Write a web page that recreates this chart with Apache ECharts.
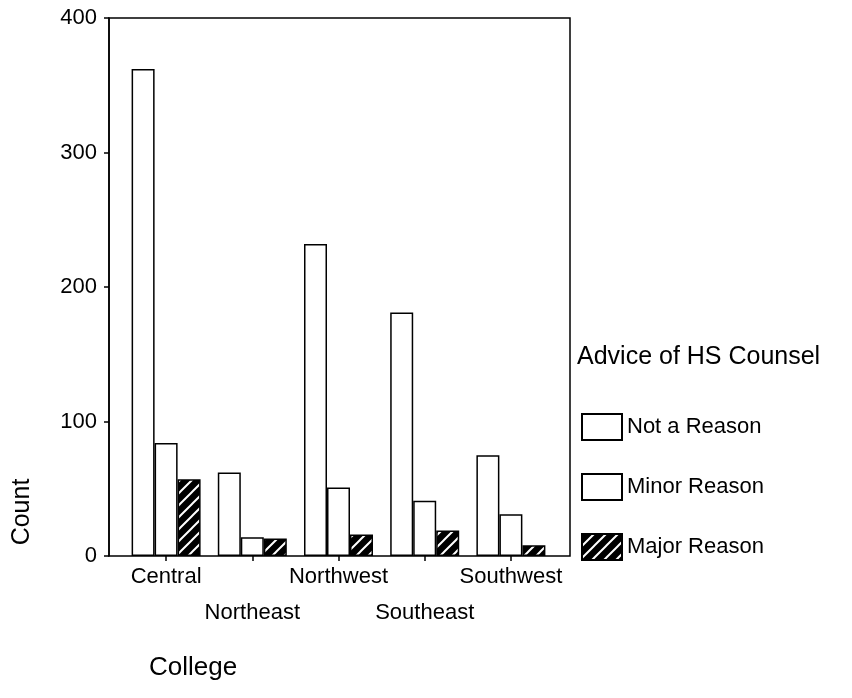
<!DOCTYPE html>
<html><head><meta charset="utf-8">
<script src="https://cdn.jsdelivr.net/npm/echarts@6/dist/echarts.min.js"></script>
<style>html,body{margin:0;padding:0;background:#fff}#c{width:852px;height:698px}</style>
</head><body><div id="c"></div>
<script>
const categories = ['Central', 'Northeast', 'Northwest', 'Southeast', 'Southwest'];
const notAReason = [362, 62, 232, 181, 75];
const minorReason = [84, 14, 51, 41, 31];
const majorReason = [57, 13, 16, 19, 8];
const seriesNames = ['Not a Reason', 'Minor Reason', 'Major Reason'];
const yTicks = [0, 100, 200, 300, 400];

const FONT = '"Liberation Sans", Arial, sans-serif';

// hatch pattern: black with white "/" stripes
const pc = document.createElement('canvas');
pc.width = 12; pc.height = 12;
const g = pc.getContext('2d');
g.fillStyle = '#000'; g.fillRect(0, 0, 12, 12);
g.strokeStyle = '#fff'; g.lineWidth = 2;
g.beginPath();
g.moveTo(0, 12); g.lineTo(12, 0);
g.moveTo(-3, 3); g.lineTo(3, -3);
g.moveTo(9, 15); g.lineTo(15, 9);
g.stroke();
const hatch = { image: pc, repeat: 'repeat' };

const chart = echarts.init(document.getElementById('c'), null, { renderer: 'canvas' });
const barCommon = { type: 'bar', barWidth: 23, barGap: '0%', xAxisIndex: 0, yAxisIndex: 0 };
chart.setOption({
  animation: false,
  backgroundColor: '#fff',
  textStyle: { fontFamily: FONT, color: '#000' },
  grid: [
    { left: 123, right: 298, top: 18, bottom: 142, containLabel: false, outerBoundsMode: 'none' },
    { left: 109, right: 282, top: 18, bottom: 142, containLabel: false, outerBoundsMode: 'none',
      show: true, borderColor: '#000', borderWidth: 1.5, backgroundColor: 'transparent' }
  ],
  xAxis: [
    { type: 'category', gridIndex: 0, data: categories,
      axisLine: { show: false },
      axisTick: { show: true, alignWithLabel: true, length: 5, lineStyle: { color: '#000', width: 1.5 } },
      axisLabel: { interval: 0, fontSize: 22, color: '#000', fontFamily: FONT, margin: 3, lineHeight: 36,
        formatter: (v, i) => (i % 2 ? '\n' + v : v) },
      splitLine: { show: false } },
    { type: 'value', gridIndex: 1, show: false, min: 0, max: 1 }
  ],
  yAxis: [
    { type: 'value', gridIndex: 0, min: 0, max: 400, interval: 100, show: false, splitLine: { show: false } },
    { type: 'value', gridIndex: 1, min: yTicks[0], max: yTicks[yTicks.length - 1], interval: 100,
      axisLine: { show: true, lineStyle: { color: '#000', width: 1.5 } },
      axisTick: { show: true, length: 5, lineStyle: { color: '#000', width: 1.5 } },
      axisLabel: { fontSize: 22, color: '#000', fontFamily: FONT, margin: 12 },
      splitLine: { show: false } }
  ],
  legend: {
    orient: 'vertical', left: 581, top: 413, padding: 0,
    itemWidth: 40, itemHeight: 26, itemGap: 32, icon: 'rect',
    textStyle: { fontSize: 22, color: '#000', fontFamily: FONT },
    data: seriesNames
  },
  series: [
    Object.assign({}, barCommon, { name: seriesNames[0], data: notAReason,
      itemStyle: { color: '#fff', borderColor: '#000', borderWidth: 1.5 } }),
    Object.assign({}, barCommon, { name: seriesNames[1], data: minorReason,
      itemStyle: { color: '#fff', borderColor: '#000', borderWidth: 1.5 } }),
    Object.assign({}, barCommon, { name: seriesNames[2], data: majorReason,
      itemStyle: { color: hatch, borderColor: '#000', borderWidth: 1.5 } })
  ],
  graphic: [
    { type: 'text', x: 577, y: 357, style: { text: 'Advice of HS Counsel', fontSize: 25, fontFamily: FONT, fill: '#000', textAlign: 'left', textVerticalAlign: 'middle' } },
    { type: 'text', x: 22, y: 512, rotation: Math.PI / 2, style: { text: 'Count', fontSize: 25, fontFamily: FONT, fill: '#000', textAlign: 'center', textVerticalAlign: 'middle' } },
    { type: 'text', x: 149, y: 668, style: { text: 'College', fontSize: 26, fontFamily: FONT, fill: '#000', textAlign: 'left', textVerticalAlign: 'middle' } }
  ]
});
</script>
</body></html>
